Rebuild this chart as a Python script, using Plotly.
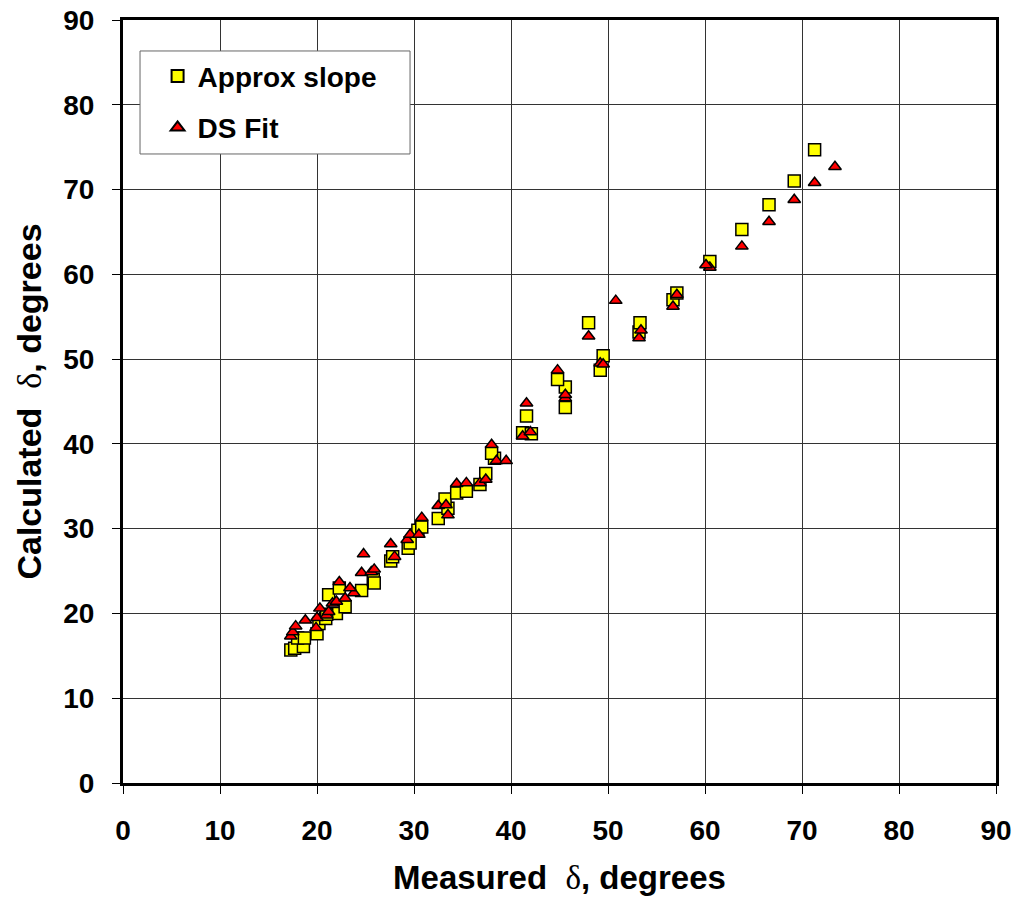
import plotly.graph_objects as go

# ---- data ----
approx_x = [17.3, 17.7, 18.6, 18.0, 18.7, 20.0, 20.2, 20.9, 22.0, 21.0, 22.9, 21.2, 22.3,
            24.6, 25.8, 25.9, 27.6, 27.8, 29.4, 29.6, 30.4, 30.8, 32.5, 33.5, 33.2, 34.4,
            35.4, 36.8, 37.4, 38.3, 38.0, 41.2, 42.1, 41.6, 45.6, 45.6, 44.8, 49.2, 49.5,
            53.2, 53.3, 48.0, 56.7, 57.1, 60.5, 63.8, 66.6, 69.2, 71.3]
approx_y = [15.7, 15.9, 16.1, 17.1, 17.1, 17.6, 18.8, 19.4, 20.0, 19.9, 20.8, 22.2, 23.0,
            22.7, 24.0, 23.6, 26.2, 26.7, 27.7, 28.3, 29.8, 30.2, 31.2, 32.4, 33.5, 34.2,
            34.4, 35.2, 36.5, 38.3, 38.9, 41.3, 41.2, 43.3, 44.3, 46.7, 47.6, 48.7, 50.4,
            53.2, 54.3, 54.3, 57.0, 57.8, 61.5, 65.3, 68.2, 71.0, 74.7]

ds_x = [17.3, 17.5, 17.8, 18.8, 19.9, 20.0, 20.3, 21.0, 21.2, 21.6, 22.0, 22.9, 23.8,
        23.4, 22.3, 24.6, 24.8, 25.6, 25.9, 27.6, 28.0, 29.3, 29.6, 30.5, 30.8, 32.5,
        33.3, 33.5, 34.4, 35.4, 36.8, 37.4, 38.0, 38.5, 39.5, 41.2, 42.0, 41.6, 45.6,
        45.6, 44.8, 49.2, 49.5, 53.2, 53.4, 48.0, 50.8, 56.7, 57.1, 60.5, 60.1, 63.8,
        66.6, 69.2, 71.3, 73.4]
ds_y = [17.3, 17.8, 18.5, 19.2, 18.3, 19.5, 20.6, 19.8, 20.2, 21.2, 21.4, 21.8, 22.4,
        23.0, 23.7, 24.8, 27.0, 24.9, 25.2, 28.2, 26.7, 28.7, 29.3, 29.3, 31.3, 32.7,
        32.8, 31.6, 35.3, 35.4, 35.4, 35.8, 39.9, 38.0, 38.0, 40.9, 41.4, 44.8, 45.4,
        45.8, 48.7, 49.5, 49.4, 52.5, 53.4, 52.7, 56.9, 56.2, 57.6, 60.8, 61.1, 63.3,
        66.2, 68.8, 70.8, 72.7]

tick_vals = [0, 10, 20, 30, 40, 50, 60, 70, 80, 90]
tick_text = [str(v) for v in tick_vals]

FONT = "Liberation Sans, Arial, sans-serif"
DELTA = "<span style=\"font-family:'Liberation Serif',serif;font-weight:normal\">δ</span>"

fig = go.Figure()
fig.add_trace(go.Scatter(
    x=approx_x, y=approx_y, mode="markers", name="Approx slope", legendgroup="a",
    marker=dict(symbol="square", size=12, color="#FFFF00",
                line=dict(color="black", width=1.5)),
))
fig.add_trace(go.Scatter(
    x=ds_x, y=ds_y, mode="markers", name="DS Fit", legendgroup="b",
    marker=dict(symbol="triangle-up", size=11, color="#FF0000",
                line=dict(color="black", width=1.5)),
))

axis_common = dict(
    range=[0, 90], tickmode="array", tickvals=tick_vals, ticktext=tick_text,
    showgrid=True, gridcolor="#333333", gridwidth=1,
    showline=True, linecolor="black", linewidth=3, mirror=True,
    ticks="outside", ticklen=8, tickcolor="black", tickwidth=1,
    zeroline=False, automargin=False,
    tickfont=dict(family=FONT, size=28, color="black", weight="bold"),
)

fig.update_layout(
    width=1026, height=907,
    margin=dict(l=123, r=30, t=20, b=124),
    paper_bgcolor="white", plot_bgcolor="white",
    font=dict(family=FONT, color="black"),
    xaxis=dict(axis_common, ticklabelstandoff=12,
               title=dict(text="Measured  " + DELTA + ", degrees",
                          font=dict(family=FONT, size=33, color="black", weight="bold"),
                          standoff=22)),
    yaxis=dict(axis_common, ticklabelstandoff=12,
               title=dict(text="Calculated  " + DELTA + ", degrees",
                          font=dict(family=FONT, size=34, color="black", weight="bold"),
                          standoff=12)),
    legend=dict(
        x=0.019, y=0.959, xanchor="left", yanchor="top",
        bgcolor="rgba(0,0,0,0)", borderwidth=0,
        font=dict(family=FONT, size=28, color="black", weight="bold"),
        traceorder="grouped", tracegroupgap=12, indentation=18,
        itemsizing="constant",
    ),
    # legend frame (wider than plotly's auto-sized legend box)
    shapes=[dict(type="rect", xref="paper", yref="paper",
                 x0=0.0195, x1=0.3288, y0=0.8244, y1=0.9594,
                 fillcolor="white", line=dict(color="#666666", width=1),
                 layer="above")],
    showlegend=True,
)

fig.write_html("out.html", config={"displayModeBar": False},
               post_script="document.body.style.margin='0';document.body.style.padding='0';")
